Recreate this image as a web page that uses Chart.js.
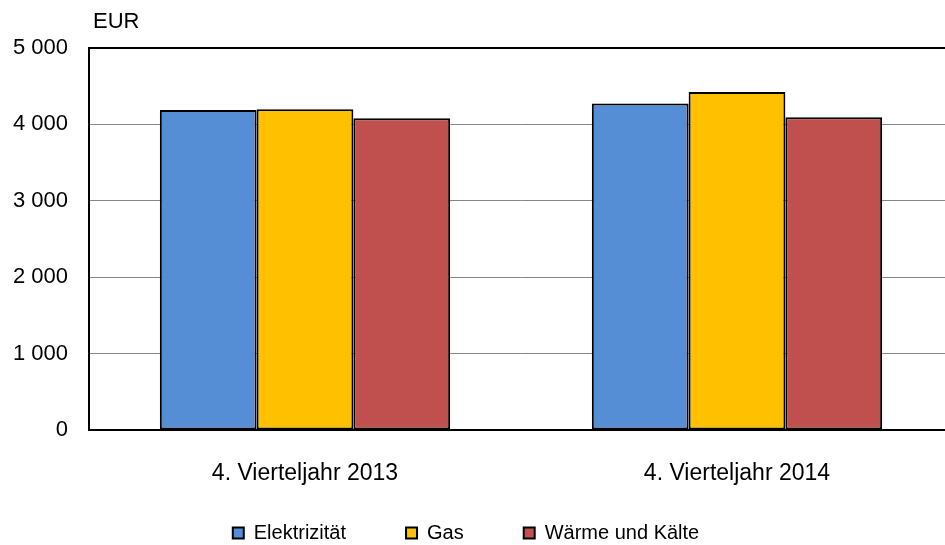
<html><head>
<title>Energiekosten je Quartal</title>
<style>
  html, body {
    margin: 0;
    padding: 0;
    overflow: hidden;
    background: #fff;
  }
  #chart {
    position: absolute;
    left: -21px;
    top: 0;
  }
</style>
<script src="https://cdn.jsdelivr.net/npm/chart.js"></script>
</head>
<body>
  <canvas id="chart" width="974" height="553"></canvas>

  <script>
    // Werte
    const categories = ['4. Vierteljahr 2013', '4. Vierteljahr 2014'];
    const elektrizitaet = [4188, 4275];
    const gas = [4197, 4424];
    const waermeKaelte = [4079, 4092];
    const yTicks = [0, 1000, 2000, 3000, 4000, 5000];
    const unit = 'EUR';

    const fontFamily = '"Liberation Sans", Arial, sans-serif';
    Chart.defaults.font.family = fontFamily;
    Chart.defaults.color = '#000';

    // thousands with a space: 5 000
    function fmt(v) {
      return String(v).replace(/\B(?=(\d{3})+(?!\d))/g, ' ');
    }

    // "EUR" above the y axis
    const unitLabel = {
      id: 'unitLabel',
      afterDraw(chart) {
        const {ctx, chartArea} = chart;
        ctx.save();
        ctx.font = '22px ' + fontFamily;
        ctx.fillStyle = '#000';
        ctx.textBaseline = 'middle';
        ctx.fillText(unit, chartArea.left + 4, chartArea.top - 26);
        ctx.restore();
      }
    };

    // x axis box is kept short so the wide legend fits; let its labels draw below it
    const labelRoom = {
      id: 'labelRoom',
      afterLayout(chart) {
        chart.scales.x.bottom = chart.height;
      }
    };

    new Chart(document.getElementById('chart'), {
      type: 'bar',
      data: {
        labels: categories,
        datasets: [
          { label: 'Elektrizität', data: elektrizitaet, backgroundColor: '#558ED5' },
          { label: 'Gas', data: gas, backgroundColor: '#FFC000' },
          { label: 'Wärme und Kälte', data: waermeKaelte, backgroundColor: '#C0504D' }
        ]
      },
      options: {
        responsive: false,
        animation: false,
        layout: { padding: { top: 48, left: 0, right: 0, bottom: 0 } },
        datasets: {
          bar: {
            borderColor: '#000',
            borderWidth: 2,
            borderSkipped: false,
            categoryPercentage: 0.672,
            barPercentage: 1.0
          }
        },
        plugins: {
          legend: {
            position: 'bottom',
            labels: {
              boxWidth: 11,
              boxHeight: 11,
              padding: 60,
              font: { size: 20 },
              color: '#000'
            }
          },
          tooltip: { enabled: false }
        },
        scales: {
          x: {
            grid: { display: false, drawTicks: false },
            border: { display: true, color: '#000', width: 2 },
            ticks: { padding: 30, font: { size: 23 }, color: '#000' },
            afterFit: (scale) => { scale.height = 33; }
          },
          y: {
            min: 0,
            max: 5000,
            afterBuildTicks: (scale) => { scale.ticks = yTicks.map(v => ({ value: v })); },
            grid: {
              drawTicks: false,
              color: (c) => c.tick && c.tick.value === 5000 ? '#000' : '#868686',
              lineWidth: (c) => c.tick && c.tick.value === 5000 ? 2 : 1
            },
            border: { display: true, color: '#000', width: 2 },
            ticks: {
              padding: 21,
              font: { size: 22 },
              color: '#000',
              callback: (v) => fmt(v)
            },
            afterFit: (scale) => { scale.width = 110; }
          }
        }
      },
      plugins: [unitLabel, labelRoom]
    });
  </script>
</body></html>
